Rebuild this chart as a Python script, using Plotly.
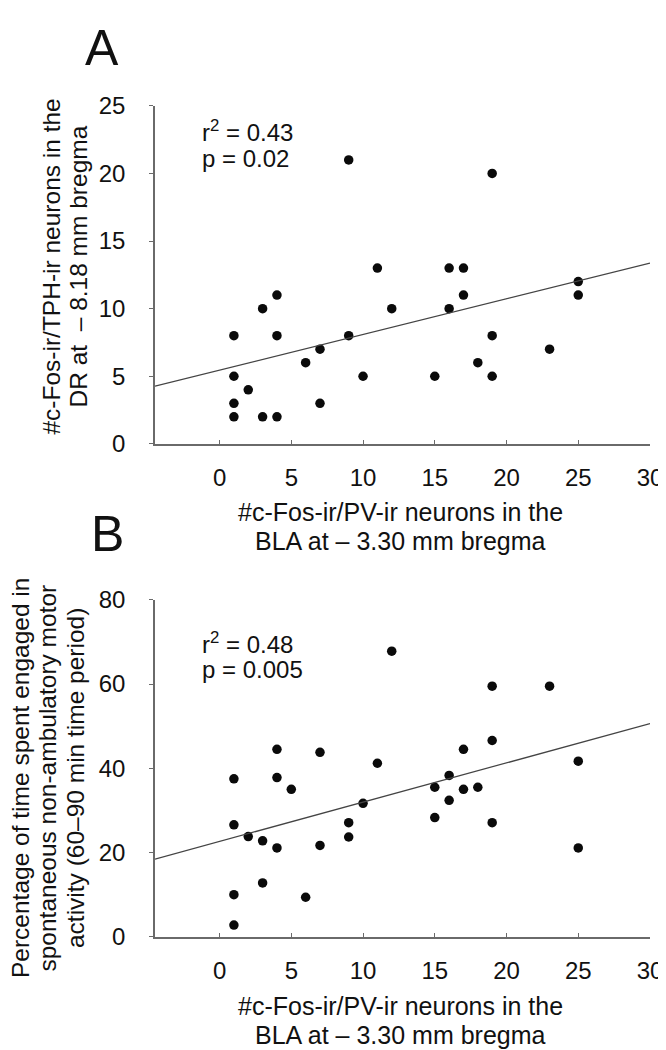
import plotly.graph_objects as go

# ---------------- data ----------------
# Panel A
a_x = [1, 1, 1, 1, 2, 3, 3, 4, 4, 4, 6, 7, 7, 9, 9, 10, 11, 12, 15, 16, 16, 17, 17, 18, 19, 19, 19, 23, 25, 25]
a_y = [8, 5, 3, 2, 4, 10, 2, 11, 8, 2, 6, 7, 3, 21, 8, 5, 13, 10, 5, 13, 10, 13, 11, 6, 20, 8, 5, 7, 12, 11]
a_fit_intercept = 5.45
a_fit_slope = 0.264
a_stats = ["r<sup>2</sup> = 0.43", "p = 0.02"]

# Panel B
b_x = [1, 1, 1, 1, 2, 3, 3, 4, 4, 4, 5, 6, 7, 7, 9, 9, 10, 11, 12, 15, 15, 16, 16, 17, 17, 18, 19, 19, 19, 23, 25, 25]
b_y = [37.5, 26.6, 10.0, 2.8, 23.8, 22.8, 12.8, 44.5, 37.8, 21.1, 35.0, 9.4, 43.8, 21.7, 27.1, 23.7, 31.7, 41.2,
       67.8, 35.5, 28.3, 38.3, 32.4, 44.5, 35.0, 35.5, 59.5, 46.6, 27.1, 59.5, 41.7, 21.1]
b_fit_intercept = 22.65
b_fit_slope = 0.932
b_stats = ["r<sup>2</sup> = 0.48", "p = 0.005"]

x_ticks = [0, 5, 10, 15, 20, 25, 30]
a_y_ticks = [0, 5, 10, 15, 20, 25]
b_y_ticks = [0, 20, 40, 60, 80]

x_title_lines = ["#c-Fos-ir/PV-ir neurons in the", "BLA at – 3.30 mm bregma"]
a_y_title_lines = ["#c-Fos-ir/TPH-ir neurons in the", "DR at &nbsp;– 8.18 mm bregma"]
b_y_title_lines = ["Percentage of time spent engaged in", "spontaneous non-ambulatory motor",
                   "activity (60–90 min time period)"]
x_range = [-4.5, 30]

# ---------------- layout helpers ----------------
W, H = 666, 1050
ML, MR = 147, 24
PW = W - ML - MR
FONT = "Liberation Sans, Arial, sans-serif"
INK = "#111111"
AXC = "#6a6a6a"


def px(x):
    return (x - ML) / PW


def py(y):
    return 1 - y / H


fig = go.Figure()

for xs, ys, ax in [(a_x, a_y, ""), (b_x, b_y, "2")]:
    fig.add_trace(go.Scatter(x=xs, y=ys, mode="markers", xaxis="x" + ax, yaxis="y" + ax,
                             marker=dict(size=9.5, color="#0a0a0a"), showlegend=False,
                             hoverinfo="x+y"))

for b0, b1, ax in [(a_fit_intercept, a_fit_slope, ""), (b_fit_intercept, b_fit_slope, "2")]:
    fig.add_trace(go.Scatter(x=x_range, y=[b0 + b1 * v for v in x_range], mode="lines",
                             xaxis="x" + ax, yaxis="y" + ax,
                             line=dict(color="#444444", width=1.3), showlegend=False,
                             hoverinfo="skip"))

xcommon = dict(range=x_range, tickvals=x_ticks, ticks="inside", ticklen=4, tickcolor=AXC,
               showline=True, linecolor=AXC, linewidth=1.5, showgrid=False, zeroline=False,
               tickfont=dict(family=FONT, size=24, color=INK), ticklabelstandoff=12,
               domain=[0, 1])
ycommon = dict(ticks="outside", ticklen=4, tickcolor=AXC, showline=True, linecolor=AXC,
               linewidth=1.5, showgrid=False, zeroline=False,
               tickfont=dict(family=FONT, size=24, color=INK), ticklabelstandoff=19)

fig.update_layout(
    width=W, height=H,
    margin=dict(l=ML, r=MR, t=0, b=0),
    paper_bgcolor="white", plot_bgcolor="white",
    xaxis=dict(**xcommon, anchor="y"),
    yaxis=dict(**ycommon, range=[0, 25], tickvals=a_y_ticks, anchor="x",
               domain=[py(433), py(86)]),
    xaxis2=dict(**xcommon, anchor="y2"),
    yaxis2=dict(**ycommon, range=[0, 80], tickvals=b_y_ticks, anchor="x2",
                domain=[py(939), py(593)]),
)

ann = []


def note(text, x, y, size, xanchor="center", angle=0):
    ann.append(dict(text=text, x=px(x), y=py(y), xref="paper", yref="paper", showarrow=False,
                    xanchor=xanchor, yanchor="middle", textangle=angle,
                    font=dict(family=FONT, size=size, color=INK)))


# panel letters
note("A", 94, 27, 50)
note("B", 99, 525, 50)
# x titles (one annotation per line for tight spacing)
for top in (503, 1010):
    for i, line in enumerate(x_title_lines):
        note(line, 392, top + 30 * i, 25)
# y titles
for i, line in enumerate(a_y_title_lines):
    note(line, 44 + 27 * i, 251, 24.5, angle=-90)
for i, line in enumerate(b_y_title_lines):
    note(line, 12 + 27.5 * i, 776, 24.5, angle=-90)
# stats
for (l1, l2), y1, y2 in [(a_stats, 112, 140), (b_stats, 637, 665)]:
    note(l1, 192, y1, 24, xanchor="left")
    note(l2, 192, y2, 24, xanchor="left")

fig.update_layout(annotations=ann)
fig.write_html("out.html")
